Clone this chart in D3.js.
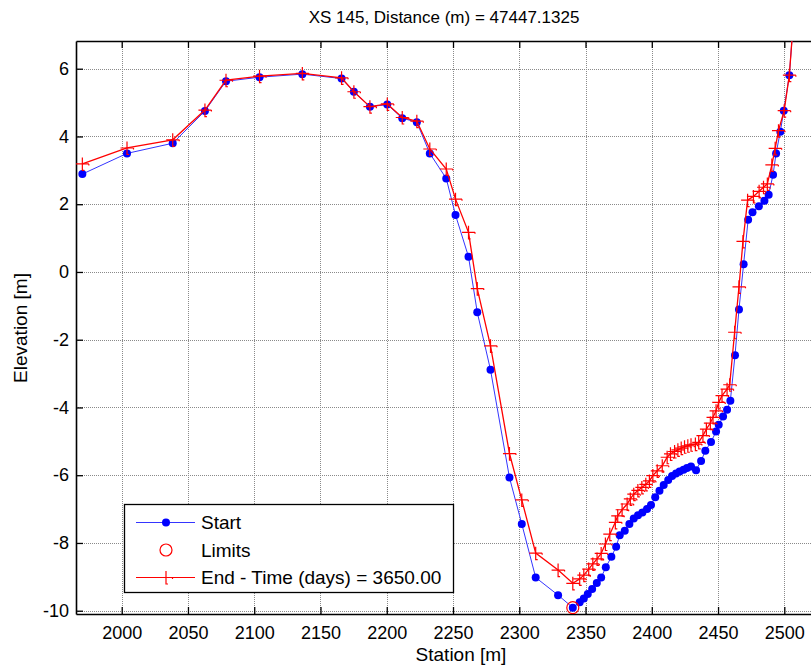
<!doctype html>
<html>
  <head>
    <script src="https://cdnjs.cloudflare.com/ajax/libs/d3/7.8.5/d3.min.js"></script>
    <style>
      body { margin: 0; background: #fff; }
      svg { font-family: "Liberation Sans", Arial, sans-serif; }
      .axis path.domain { stroke: #000; stroke-width: 1.6; }
      .axis line { stroke: #000; stroke-width: 1.3; }
      .axis text { font-size: 18px; fill: #000; font-family: "Liberation Sans", Arial, sans-serif; }
      .grid line { stroke: #8a8a8a; stroke-width: 1; stroke-dasharray: 1 1; }
    </style>
  </head>
  <body>
    <svg id="chart" width="811" height="669"></svg>
    <script>
      // Start profile
      var startStation = [1970.3, 2004.0, 2038.5, 2062.8, 2078.7, 2104.0, 2136.3, 2165.9, 2175.2, 2187.3,
        2200.4, 2211.7, 2222.7, 2232.5, 2244.9, 2251.9, 2261.7, 2268.3, 2278.3, 2292.6,
        2301.9, 2312.4, 2329.3, 2340.4, 2345.6, 2348.7, 2351.7, 2355.0, 2358.5, 2361.8,
        2365.3, 2369.5, 2373.1, 2375.8, 2379.6, 2383.1, 2386.4, 2389.6, 2392.9, 2396.4,
        2399.4, 2402.6, 2405.8, 2409.0, 2412.4, 2415.3, 2418.3, 2421.0, 2424.0, 2426.6,
        2429.6, 2433.4, 2437.2, 2440.4, 2444.7, 2448.5, 2450.5, 2453.8, 2456.8, 2459.3,
        2462.8, 2465.8, 2469.3, 2472.7, 2476.0, 2480.8, 2485.0, 2488.2, 2491.5, 2493.8,
        2497.0, 2499.6, 2503.8, 2507.0];
      var startElev = [2.89, 3.50, 3.80, 4.75, 5.63, 5.75, 5.84, 5.71, 5.32, 4.88,
        4.94, 4.54, 4.42, 3.50, 2.76, 1.68, 0.45, -1.19, -2.89, -6.07,
        -7.44, -9.02, -9.54, -9.91, -9.75, -9.64, -9.51, -9.36, -9.18, -9.02,
        -8.72, -8.41, -8.11, -7.77, -7.64, -7.44, -7.28, -7.18, -7.10, -7.00,
        -6.88, -6.65, -6.46, -6.29, -6.14, -6.02, -5.95, -5.89, -5.84, -5.79,
        -5.74, -5.85, -5.58, -5.28, -5.02, -4.71, -4.51, -4.27, -4.07, -3.80,
        -2.46, -1.11, 0.23, 1.54, 1.76, 1.94, 2.10, 2.28, 2.87, 3.50,
        4.14, 4.76, 5.81, 7.5];

      // End profile (3650 days)
      var endStation = [1970.3, 2004.0, 2038.5, 2062.8, 2078.7, 2104.0, 2136.3, 2165.9, 2175.2, 2187.3,
        2200.4, 2211.7, 2222.7, 2232.5, 2244.9, 2251.9, 2261.7, 2268.3, 2278.3, 2292.6,
        2301.9, 2312.4, 2329.3, 2340.4, 2345.6, 2348.7, 2352.4, 2355.5, 2358.7, 2361.8,
        2365.0, 2368.3, 2372.5, 2374.3, 2377.6, 2381.4, 2383.8, 2386.4, 2389.5, 2392.5,
        2395.5, 2398.2, 2400.8, 2404.1, 2407.9, 2411.6, 2414.1, 2417.2, 2419.7, 2422.2,
        2424.7, 2427.2, 2429.6, 2432.9, 2435.4, 2438.6, 2441.2, 2444.2, 2446.2, 2448.5,
        2450.5, 2453.0, 2456.8, 2458.8, 2462.5, 2465.8, 2468.8, 2472.3, 2476.7, 2481.0,
        2484.3, 2487.2, 2490.6, 2493.1, 2495.6, 2499.9, 2503.8, 2507.0];
      var endElev = [3.19, 3.66, 3.90, 4.78, 5.66, 5.78, 5.86, 5.73, 5.32, 4.88,
        4.96, 4.56, 4.45, 3.63, 3.04, 2.15, 1.17, -0.49, -2.18, -5.36,
        -6.73, -8.30, -8.80, -9.19, -9.06, -8.95, -8.77, -8.62, -8.47, -8.31,
        -8.03, -7.74, -7.39, -7.20, -7.02, -6.85, -6.70, -6.56, -6.45, -6.36,
        -6.27, -6.17, -6.01, -5.87, -5.72, -5.47, -5.37, -5.30, -5.25, -5.20,
        -5.16, -5.13, -5.10, -5.08, -5.03, -4.83, -4.64, -4.46, -4.29, -4.10,
        -3.85, -3.65, -3.46, -3.33, -1.78, -0.44, 0.90, 2.12, 2.23, 2.38,
        2.50, 2.60, 3.16, 3.65, 4.17, 4.76, 5.81, 7.5];

      var limitStation = [2340.4];
      var limitElev = [-9.91];

      var xTicks = [2000, 2050, 2100, 2150, 2200, 2250, 2300, 2350, 2400, 2450, 2500];
      var yTicks = [-10, -8, -6, -4, -2, 0, 2, 4, 6];
      var legendLabels = ["Start", "Limits", "End - Time (days) = 3650.00"];

      var padL = 76, padT = 41, padR = 812, padB = 614;
      var svg = d3.select("#chart");

      var x = d3.scaleLinear().domain([1965.51, 2520.9]).range([padL, padR]);
      var y = d3.scaleLinear().domain([-10.097, 6.818]).range([padB, padT]);

      svg.append("defs").append("clipPath").attr("id", "clip")
        .append("rect").attr("x", padL).attr("y", padT)
        .attr("width", padR - padL).attr("height", padB - padT);

      // grid
      var grid = svg.append("g").attr("class", "grid");
      grid.selectAll(".gx").data(xTicks).enter().append("line")
        .attr("x1", d => Math.round(x(d)) + 0.5).attr("x2", d => Math.round(x(d)) + 0.5)
        .attr("y1", padT).attr("y2", padB);
      grid.selectAll(".gy").data(yTicks).enter().append("line")
        .attr("y1", d => Math.round(y(d)) + 0.5).attr("y2", d => Math.round(y(d)) + 0.5)
        .attr("x1", padL).attr("x2", padR);

      // axes
      svg.append("g").attr("class", "axis")
        .attr("transform", "translate(0," + padB + ")")
        .call(d3.axisBottom(x).tickValues(xTicks).tickSize(-7).tickPadding(12).tickSizeOuter(0)
          .tickFormat(d3.format("d")));
      svg.append("g").attr("class", "axis")
        .attr("transform", "translate(0," + padT + ")")
        .call(d3.axisTop(x).tickValues(xTicks).tickSize(-7).tickSizeOuter(0).tickFormat(""));
      svg.append("g").attr("class", "axis")
        .attr("transform", "translate(" + padL + ",0)")
        .call(d3.axisLeft(y).tickValues(yTicks).tickSize(-7).tickPadding(7).tickSizeOuter(0)
          .tickFormat(d3.format("d")));
      svg.selectAll(".axis text").text(function () { return this.textContent.replace("−", "-"); });

      // data
      var plot = svg.append("g").attr("clip-path", "url(#clip)");
      var startData = startStation.map((s, i) => ({x: s, y: startElev[i]}));
      var endData = endStation.map((s, i) => ({x: s, y: endElev[i]}));
      var line = d3.line().x(d => x(d.x)).y(d => y(d.y));

      plot.append("path").datum(startData)
        .attr("d", line).attr("fill", "none").attr("stroke", "#3535ff").attr("stroke-width", 1);
      plot.selectAll(".sdot").data(startData).enter().append("circle")
        .attr("cx", d => x(d.x)).attr("cy", d => y(d.y)).attr("r", 4).attr("fill", "#0000ff");

      plot.selectAll(".lim").data(limitStation).enter().append("circle")
        .attr("cx", d => x(d)).attr("cy", (d, i) => y(limitElev[i])).attr("r", 6)
        .attr("fill", "none").attr("stroke", "#ff0000").attr("stroke-width", 1.2);

      plot.append("path").datum(endData)
        .attr("d", line).attr("fill", "none").attr("stroke", "#ff0000").attr("stroke-width", 1.3);
      var plusPath = "M-6.5,0H6.5M0,-6.5V6.5h2M6.5,0v1.5";
      plot.selectAll(".eplus").data(endData).enter().append("path")
        .attr("transform", d => "translate(" + x(d.x) + "," + y(d.y) + ")")
        .attr("d", plusPath).attr("fill", "none").attr("stroke", "#ff0000").attr("stroke-width", 1.2);

      // legend
      var lg = svg.append("g");
      lg.append("rect").attr("x", 124.5).attr("y", 504.5).attr("width", 329).attr("height", 88)
        .attr("fill", "#fff").attr("stroke", "#000").attr("stroke-width", 1.3);
      var rowY = [522.5, 550, 577.5];
      lg.append("line").attr("x1", 136).attr("x2", 195).attr("y1", rowY[0]).attr("y2", rowY[0])
        .attr("stroke", "#3535ff").attr("stroke-width", 1);
      lg.append("circle").attr("cx", 166).attr("cy", rowY[0]).attr("r", 4).attr("fill", "#0000ff");
      lg.append("circle").attr("cx", 166).attr("cy", rowY[1]).attr("r", 6)
        .attr("fill", "none").attr("stroke", "#ff0000").attr("stroke-width", 1.2);
      lg.append("line").attr("x1", 136).attr("x2", 195).attr("y1", rowY[2]).attr("y2", rowY[2])
        .attr("stroke", "#ff0000").attr("stroke-width", 1);
      lg.append("path").attr("transform", "translate(166," + rowY[2] + ")").attr("d", plusPath)
        .attr("fill", "none").attr("stroke", "#ff0000").attr("stroke-width", 1.2);
      lg.selectAll(".lt").data(legendLabels).enter().append("text")
        .attr("x", 201).attr("y", (d, i) => rowY[i]).attr("dy", "0.35em")
        .attr("font-size", 19).text(d => d);

      // titles
      svg.append("text").attr("x", 444).attr("y", 23).attr("text-anchor", "middle")
        .attr("font-size", 17).text("XS 145, Distance (m) = 47447.1325");
      svg.append("text").attr("x", 461).attr("y", 661).attr("text-anchor", "middle")
        .attr("font-size", 19).text("Station [m]");
      svg.append("text").attr("transform", "translate(27,328) rotate(-90)").attr("text-anchor", "middle")
        .attr("font-size", 19).text("Elevation [m]");
    </script>
  </body>
</html>
